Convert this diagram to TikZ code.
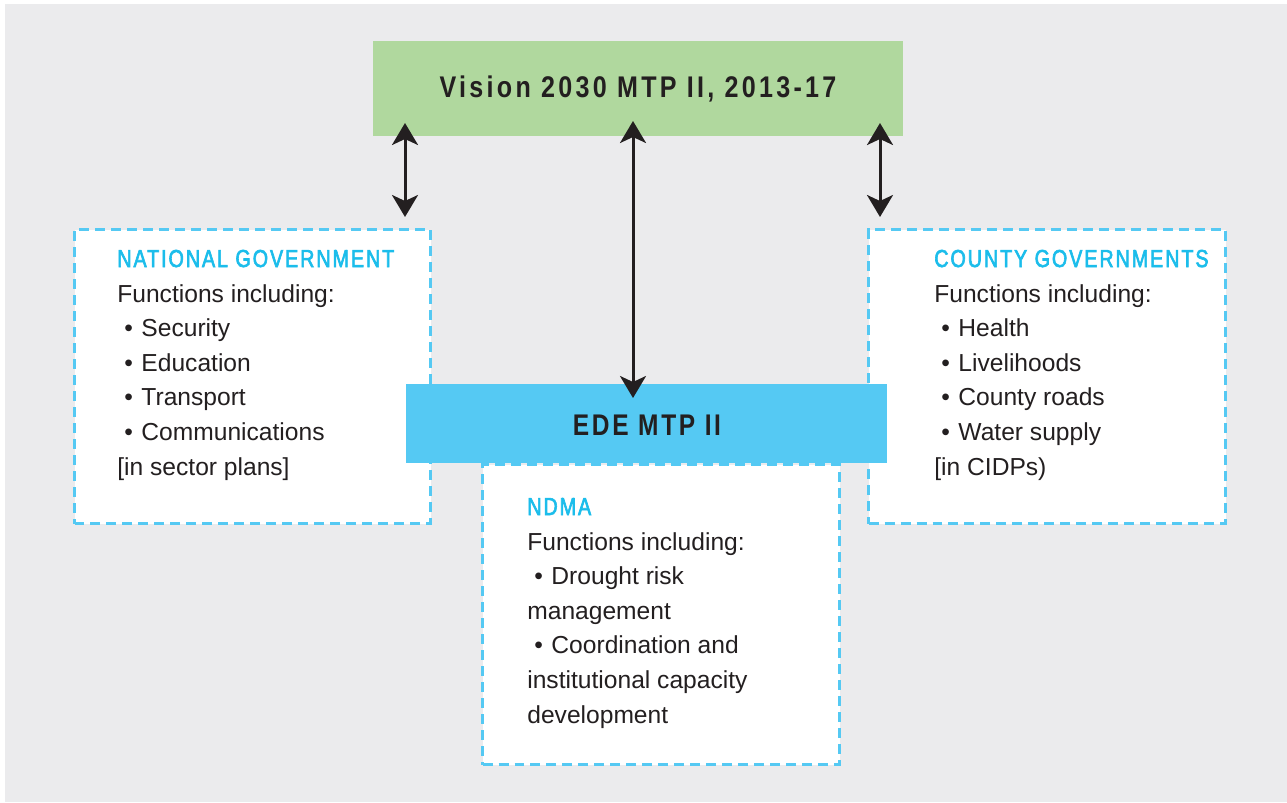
\documentclass[tikz,border=0pt]{standalone}
\usepackage{fontspec}
\setmainfont{Liberation Sans}
\newfontfamily\headfont[FakeStretch=0.8, LetterSpace=8, FakeBold=2.5]{Liberation Sans}
\newfontfamily\barfont[FakeStretch=0.82, LetterSpace=9]{Liberation Sans}
\newfontfamily\visfont[FakeStretch=0.84, LetterSpace=11]{Liberation Sans}
\usetikzlibrary{arrows.meta}

\definecolor{bggray}{HTML}{EBEBED}
\definecolor{visgreen}{HTML}{B0D89E}
\definecolor{edeblue}{HTML}{55C9F3}
\definecolor{headcyan}{HTML}{1BBDEB}
\definecolor{inkdark}{HTML}{231F20}

\newcommand{\blt}{\hspace*{0.14cm}\textbullet\hspace{0.17cm}}

\tikzset{
  pane/.style={draw=edeblue, fill=white, line width=0.06cm,
    dash pattern=on 0.2cm off 0.12cm, inner sep=0, anchor=north west},
  bar/.style={inner sep=0, anchor=north west},
  headtxt/.style={anchor=base west, inner sep=0, text=headcyan,
    font=\headfont\fontsize{14}{17}\selectfont},
  bodytxt/.style={anchor=base west, inner sep=0, text=inkdark,
    font=\fontsize{14}{17}\selectfont},
  bartxt/.style={inner sep=0, text=inkdark,
    font=\barfont\bfseries\fontsize{17}{20}\selectfont},
  link/.style={inkdark, line width=0.06cm,
    {Stealth[length=0.44cm, width=0.52cm, inset=0.12cm]}-{Stealth[length=0.44cm, width=0.52cm, inset=0.12cm]}}
}

\begin{document}
\begin{tikzpicture}[x=0.02cm, y=-0.02cm]
  % page and background
  \fill[white] (0,0) rectangle (1287,802);
  \fill[bggray] (5,4) rectangle (1287,802);
  \useasboundingbox (0,0) rectangle (1287,802);

  % dashed panes
  \node[pane, minimum width=356*0.02cm, minimum height=294*0.02cm] (natgov) at (73,228) {};
  \node[pane, minimum width=357*0.02cm, minimum height=294*0.02cm] (cntgov) at (867,228) {};
  \node[pane, minimum width=357*0.02cm, minimum height=300*0.02cm] (ndma) at (481,463) {};

  % coloured bars
  \node[bar, fill=visgreen, minimum width=530*0.02cm, minimum height=95*0.02cm] (vision) at (373,41) {};
  \node[bar, fill=edeblue, minimum width=481*0.02cm, minimum height=79*0.02cm] (ede) at (406,384) {};
  \node[bartxt, font=\visfont\bfseries\fontsize{17}{20}\selectfont] (visiontxt) at (638,89) {Vision 2030 MTP II, 2013-17};
  \node[bartxt] (edetxt) at (647,425) {EDE MTP II};

  % national government
  \node[headtxt] (nghead) at (117,267) {NATIONAL GOVERNMENT};
  \foreach \t [count=\i] in {Functions including:, \blt Security, \blt Education,
      \blt Transport, \blt Communications, {[in sector plans]}}
    \node[bodytxt] (ng\i) at (117,302+34.6*\i-34.6) {\t};

  % county governments
  \node[headtxt] (cghead) at (934,267) {COUNTY GOVERNMENTS};
  \foreach \t [count=\i] in {Functions including:, \blt Health, \blt Livelihoods,
      \blt County roads, \blt Water supply, {[in CIDPs)}}
    \node[bodytxt] (cg\i) at (934,302+34.6*\i-34.6) {\t};

  % ndma
  \node[headtxt] (ndhead) at (527,515) {NDMA};
  \foreach \t [count=\i] in {Functions including:, \blt Drought risk, management,
      \blt Coordination and, institutional capacity, development}
    \node[bodytxt] (nd\i) at (527,550+34.6*\i-34.6) {\t};

  % arrow ends
  \coordinate (vl) at (405,123);
  \coordinate (nl) at (405,217);
  \coordinate (vm) at (633,121);
  \coordinate (em) at (633,398);
  \coordinate (vr) at (880,123);
  \coordinate (cr) at (880,217);

  % links
  \draw[link] (vl) -- (nl);
  \draw[link] (vm) -- (em);
  \draw[link] (vr) -- (cr);
\end{tikzpicture}
\end{document}
